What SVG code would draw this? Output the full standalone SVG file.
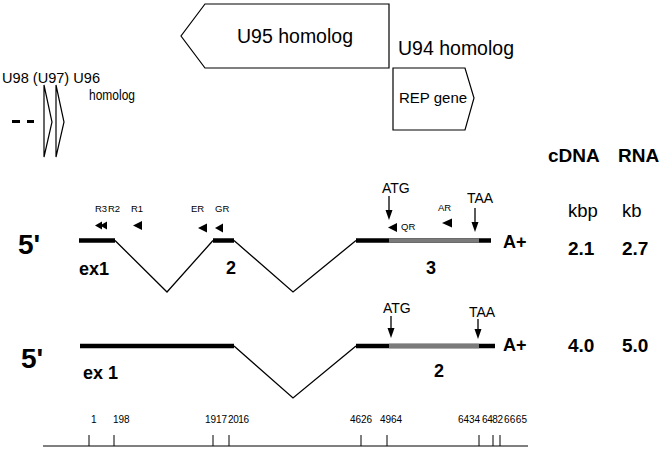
<svg xmlns="http://www.w3.org/2000/svg" width="665" height="451" viewBox="0 0 665 451">
<defs>
<style>
text{font-family:"Liberation Sans",Arial,sans-serif;fill:#000}
.b{font-weight:bold}
.thin{stroke:#000;stroke-width:1.3;fill:none}
.ex{stroke:#000;stroke-width:4.5;fill:none}
.cds{stroke:#7a7a7a;stroke-width:4.5;fill:none}
.box{stroke:#000;stroke-width:1.2;fill:#fff}
.pr{fill:#000}
.tk{stroke:#000;stroke-width:1}
.sm{font-size:9.5px}
.sc{font-size:10px}
</style>
</defs>
<rect width="665" height="451" fill="#fff"/>

<g id="u95">
<polygon class="box" points="389,4 205,4 181,36 205,68 389,68"/>
<text x="237" y="43" font-size="19.5">U95 homolog</text>
</g>
<g id="u94">
<text x="398" y="55" font-size="19.5">U94 homolog</text>
</g>
<g id="rep">
<polygon class="box" points="393,68 465,68 474,98 465,130 393,130"/>
<text x="399" y="103" font-size="15">REP gene</text>
</g>
<g id="u98-u96">
<text x="2" y="83" font-size="14.6" textLength="98" lengthAdjust="spacingAndGlyphs">U98 (U97) U96</text>
<text x="89" y="100" font-size="14" textLength="46" lengthAdjust="spacingAndGlyphs">homolog</text>
<line x1="12" y1="121.5" x2="20" y2="121.5" stroke="#000" stroke-width="3"/>
<line x1="27" y1="121.5" x2="34" y2="121.5" stroke="#000" stroke-width="3"/>
<polygon class="box" points="44,85 52,122 44,157" stroke-width="1"/>
<polygon class="box" points="56,85 64,122 56,157" stroke-width="1"/>
</g>

<g id="headers">
<text class="b" x="548" y="162" font-size="19">cDNA</text>
<text class="b" x="618" y="162" font-size="19">RNA</text>
<text x="568" y="217" font-size="18.5">kbp</text>
<text x="622" y="217" font-size="18.5">kb</text>
</g>

<g id="connectors">
<polyline class="thin" points="115,240.5 167,292 213,240.5"/>
<polyline class="thin" points="234,240.5 293,292 356,240.5"/>
<polyline class="thin" points="234,346 293,398 356,346"/>
<line class="thin" x1="389" y1="196" x2="389" y2="212"/>
<polygon class="pr" points="385.5,210 392.5,210 389,220"/>
<line class="thin" x1="475" y1="208" x2="475" y2="224"/>
<polygon class="pr" points="471.5,222 478.5,222 475,232"/>
<line class="thin" x1="391" y1="316" x2="391" y2="330"/>
<polygon class="pr" points="387.5,328 394.5,328 391,338"/>
<line class="thin" x1="478" y1="319" x2="478" y2="331"/>
<polygon class="pr" points="474.5,329 481.5,329 478,339"/>
</g>

<g id="transcript1">
<text class="b" x="18" y="254" font-size="28">5'</text>
<line class="ex" x1="79" y1="240.5" x2="115" y2="240.5"/>
<line class="ex" x1="213" y1="240.5" x2="234" y2="240.5"/>
<line class="ex" x1="356" y1="240.5" x2="491" y2="240.5"/>
<line class="cds" x1="389" y1="240.5" x2="479" y2="240.5"/>
<text class="b" x="503" y="248" font-size="18">A+</text>
<text class="b" x="79" y="275" font-size="18">ex1</text>
<text class="b" x="226" y="274" font-size="18">2</text>
<text class="b" x="426" y="274" font-size="18">3</text>
<text x="382" y="193" font-size="14">ATG</text>
<text x="467" y="203" font-size="14">TAA</text>
<text class="sm" x="95" y="212">R3</text>
<text class="sm" x="108" y="212">R2</text>
<text class="sm" x="131" y="212">R1</text>
<text class="sm" x="191" y="212">ER</text>
<text class="sm" x="215" y="212">GR</text>
<text class="sm" x="401" y="230">QR</text>
<text class="sm" x="438" y="211">AR</text>
<polygon class="pr" points="95,225.5 102,221.5 102,229.5"/>
<polygon class="pr" points="100,225.5 107,221.5 107,229.5"/>
<polygon class="pr" points="133,225.5 142,221 142,230"/>
<polygon class="pr" points="198,228 207,223.5 207,232.5"/>
<polygon class="pr" points="215,228 223,223.5 223,232.5"/>
<polygon class="pr" points="388,227.5 397,223 397,232"/>
<polygon class="pr" points="442,223 452,218.5 452,227.5"/>
<text class="b" x="568" y="255" font-size="19">2.1</text>
<text class="b" x="622" y="255" font-size="19">2.7</text>
</g>

<g id="transcript2">
<text class="b" x="21" y="368" font-size="28">5'</text>
<line class="ex" x1="80" y1="346" x2="234" y2="346"/>
<line class="ex" x1="356" y1="346" x2="495" y2="346"/>
<line class="cds" x1="389" y1="346" x2="479" y2="346"/>
<text class="b" x="503" y="351" font-size="18">A+</text>
<text class="b" x="83" y="379" font-size="18">ex 1</text>
<text class="b" x="434" y="377" font-size="18">2</text>
<text x="383" y="313" font-size="14">ATG</text>
<text x="469" y="317" font-size="14">TAA</text>
<text class="b" x="568" y="352" font-size="19">4.0</text>
<text class="b" x="622" y="352" font-size="19">5.0</text>
</g>

<g id="scale">
<line class="tk" x1="43" y1="446" x2="528" y2="446"/>
<line class="tk" x1="89" y1="435" x2="89" y2="446"/>
<line class="tk" x1="114" y1="435" x2="114" y2="446"/>
<line class="tk" x1="213" y1="435" x2="213" y2="446"/>
<line class="tk" x1="229" y1="435" x2="229" y2="446"/>
<line class="tk" x1="361" y1="435" x2="361" y2="446"/>
<line class="tk" x1="387" y1="435" x2="387" y2="446"/>
<line class="tk" x1="479" y1="435" x2="479" y2="446"/>
<line class="tk" x1="493" y1="435" x2="493" y2="446"/>
<line class="tk" x1="500" y1="435" x2="500" y2="446"/>
<text class="sc" x="91" y="423" font-family="Liberation Serif">1</text>
<text class="sc" x="113" y="423">198</text>
<text class="sc" x="205" y="423" textLength="22">1917</text>
<text class="sc" x="228" y="423" textLength="21">2016</text>
<text class="sc" x="350" y="423" textLength="22">4626</text>
<text class="sc" x="380" y="423" textLength="22">4964</text>
<text class="sc" x="458" y="423" textLength="22">6434</text>
<text class="sc" x="482" y="423" textLength="21">6482</text>
<text class="sc" x="504" y="423" textLength="23">6665</text>
</g>
</svg>
